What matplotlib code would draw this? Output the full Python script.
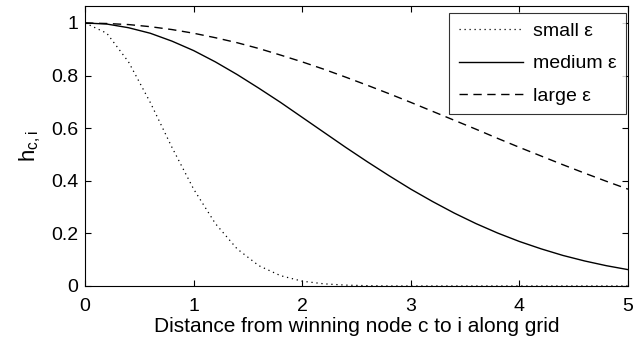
import matplotlib
matplotlib.use("Agg")
import matplotlib.pyplot as plt

# distance along grid
dist = [0.0, 0.2, 0.4, 0.6, 0.8, 1.0, 1.2, 1.4, 1.6, 1.8, 2.0, 2.2, 2.4,
        2.6, 2.8, 3.0, 3.2, 3.4, 3.6, 3.8, 4.0, 4.2, 4.4, 4.6, 4.8, 5.0]

h_small = [1.000, 0.961, 0.852, 0.698, 0.527, 0.368, 0.237, 0.141, 0.077,
           0.039, 0.018, 0.008, 0.003, 0.001, 0.000, 0.000, 0.000, 0.000,
           0.000, 0.000, 0.000, 0.000, 0.000, 0.000, 0.000, 0.000]
h_medium = [1.000, 0.996, 0.982, 0.961, 0.931, 0.895, 0.852, 0.804, 0.752,
            0.698, 0.641, 0.584, 0.527, 0.472, 0.419, 0.368, 0.321, 0.277,
            0.237, 0.201, 0.169, 0.141, 0.116, 0.095, 0.077, 0.062]
h_large = [1.000, 0.998, 0.994, 0.986, 0.975, 0.961, 0.944, 0.925, 0.903,
           0.878, 0.852, 0.824, 0.794, 0.763, 0.731, 0.698, 0.664, 0.630,
           0.596, 0.561, 0.527, 0.494, 0.461, 0.429, 0.398, 0.368]

labels = ["small \u03b5", "medium \u03b5", "large \u03b5"]

plt.rcParams['font.family'] = ['Liberation Sans', 'DejaVu Sans']
plt.rcParams['mathtext.fontset'] = 'custom'
plt.rcParams['mathtext.rm'] = 'Liberation Sans'
plt.rcParams['mathtext.it'] = 'Liberation Sans'

fig = plt.figure(figsize=(6.35, 3.47), dpi=100)
ax = fig.add_axes([0.134, 0.176, 0.855, 0.807])

ax.plot(dist, h_small, color="black", lw=0.9, linestyle=(0, (1, 3)), label=labels[0])
ax.plot(dist, h_medium, color="black", lw=1.0, linestyle="-", label=labels[1])
ax.plot(dist, h_large, color="black", lw=1.0, linestyle=(0, (6, 4)), label=labels[2])

ax.set_xlim(0, 5)
ax.set_ylim(0, 1.065)
ax.set_xticks([0, 1, 2, 3, 4, 5])
ax.set_yticks([0, 0.2, 0.4, 0.6, 0.8, 1])
ax.set_yticklabels(["0", "0.2", "0.4", "0.6", "0.8", "1"])
ax.tick_params(direction="in", top=True, right=True, labelsize=14, length=4, width=0.8)
ax.tick_params(axis="x", pad=9)
ax.tick_params(axis="y", pad=5)
for s in ax.spines.values():
    s.set_linewidth(0.8)

ax.set_xlabel("Distance from winning node c to i along grid", fontsize=15, labelpad=1)
ax.set_ylabel("$\\mathregular{h_{c,i}}$", fontsize=16, labelpad=6)

leg = ax.legend(loc="upper right", bbox_to_anchor=(0.9963, 0.975), borderaxespad=0,
                fontsize=14, handlelength=3.3, frameon=True, fancybox=False,
                edgecolor="black", labelspacing=0.75, handletextpad=0.5,
                borderpad=0.5)
leg.get_frame().set_linewidth(0.8)

fig.savefig("out.png", dpi=100)
